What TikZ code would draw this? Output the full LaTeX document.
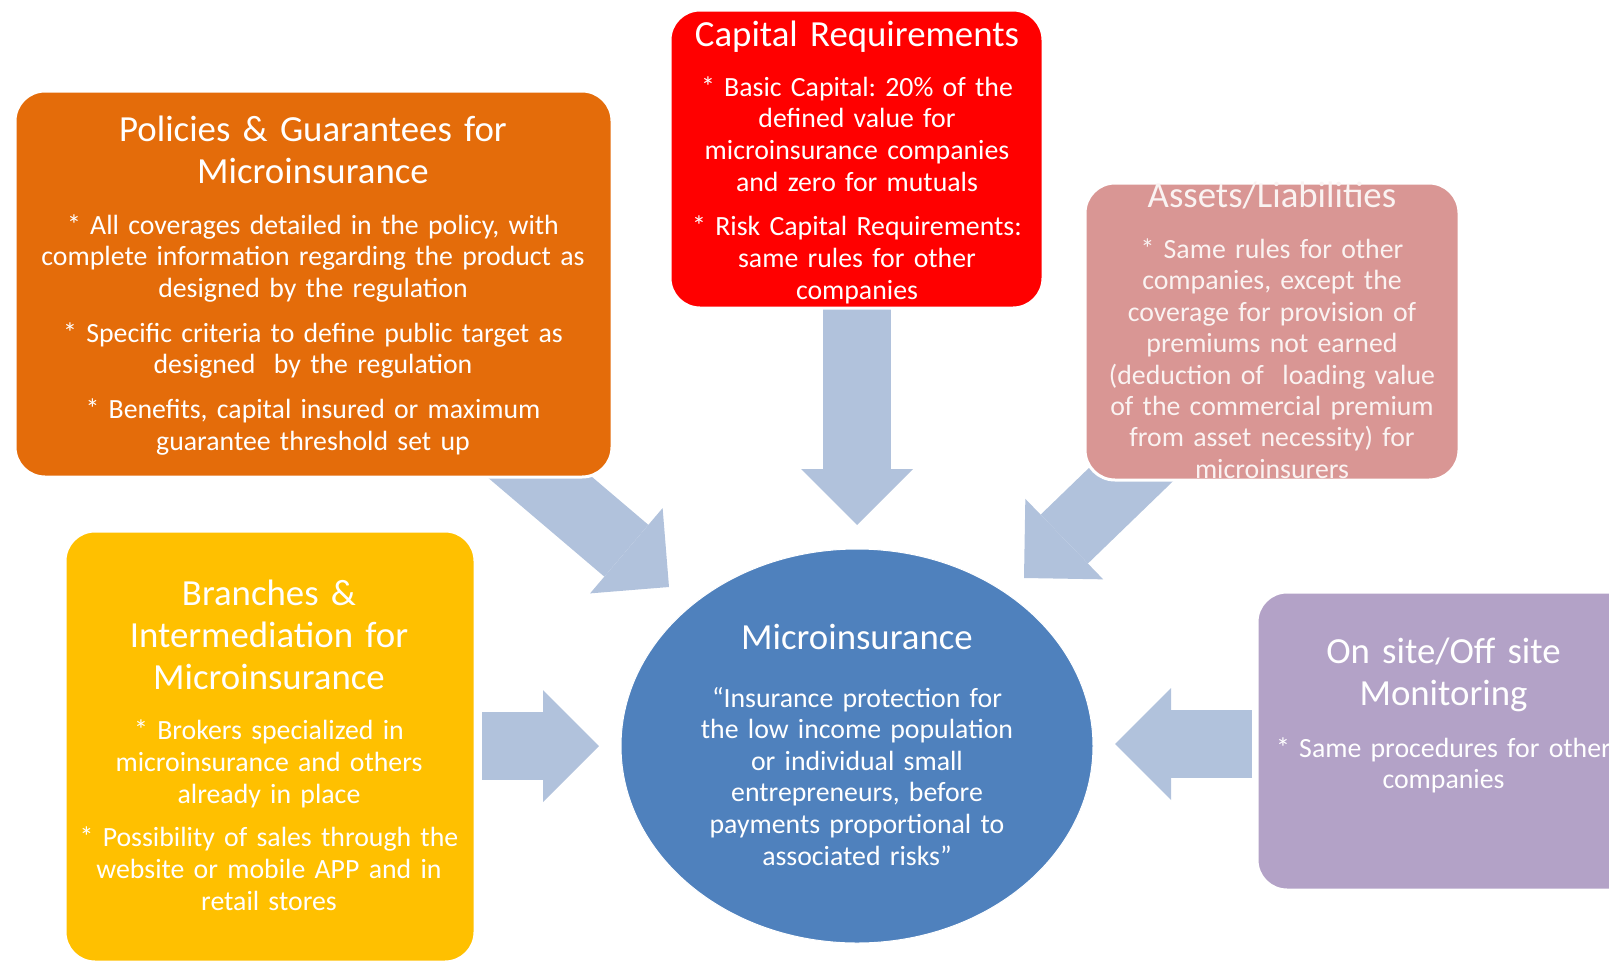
\documentclass[tikz,border=0pt]{standalone}
\usepackage{fontspec}
\setmainfont{Carlito}
\usetikzlibrary{shapes.geometric,arrows.meta}
\frenchspacing
\definecolor{polorange}{HTML}{E46C0A}
\definecolor{capred}{HTML}{FF0000}
\definecolor{asspink}{HTML}{D99694}
\definecolor{bryellow}{HTML}{FFC000}
\definecolor{monpurple}{HTML}{B3A2C7}
\definecolor{ellblue}{HTML}{4F81BD}
\definecolor{arrblue}{HTML}{B1C2DC}
\colorlet{paletext}{white!88!asspink}
\tikzset{
  box/.style={rectangle, rounded corners=30pt, draw=white, line width=3pt, inner sep=0pt},
  ttl/.style={text=white, align=center, inner sep=0pt, anchor=base, text width=640pt,
              font=\fontsize{36.8}{42}\selectfont},
  bdy/.style={text=white, align=center, inner sep=0pt, anchor=base, text width=640pt,
              font=\fontsize{27.8}{31.8}\selectfont},
  blockarrow/.style={draw=arrblue, line width=68pt,
              -{Triangle[length=56pt,width=112pt,line width=0pt]}},
}
\begin{document}
\begin{tikzpicture}[x=1pt,y=-1pt]
\useasboundingbox (0,0) rectangle (1609,964);
\clip (0,0) rectangle (1609,964);

% arrow end points
\coordinate (dA) at (857,300);   \coordinate (dB) at (857,525);
\coordinate (rA) at (482,746);   \coordinate (rB) at (599,746);
\coordinate (lA) at (1252,744);  \coordinate (lB) at (1115,744);
\coordinate (pA) at (470.6,418.3); \coordinate (pB) at (669,587);
\coordinate (aA) at (1189.5,418); \coordinate (aB) at (1024,578);

\draw[blockarrow] (dA) -- (dB);
\draw[blockarrow] (rA) -- (rB);
\draw[blockarrow] (lA) -- (lB);
\draw[blockarrow] (pA) -- (pB);
\draw[blockarrow] (aA) -- (aB);

% boxes
\node[box, fill=polorange, minimum width=597pt, minimum height=386pt] (pol) at (313.5,284) {};
\node[box, fill=capred, minimum width=373pt, minimum height=298pt] (cap) at (856.5,159) {};
\node[box, fill=asspink, minimum width=374pt, minimum height=297pt] (ass) at (1272,331.5) {};
\node[box, fill=bryellow, minimum width=410pt, minimum height=431pt] (br) at (270,746.5) {};
\node[box, fill=monpurple, minimum width=403pt, minimum height=298pt] (mon) at (1458.5,741) {};
\node[ellipse, fill=ellblue, draw=white, line width=1pt, minimum width=472pt, minimum height=394pt, inner sep=0pt] (mic) at (857,746) {};

% texts
\node[ttl] (polT) at (313,141.5) {Policies \& Guarantees for\\Microinsurance};
\node[bdy] (polB) at (313,234) {* All coverages detailed in the policy, with\\complete information regarding the product as\\designed by the regulation\\[12.7pt]* Specific criteria to define public target as\\designed\ \ by the regulation\\[12.7pt]* Benefits, capital insured or maximum\\guarantee threshold set up};

\node[ttl] (capT) at (857,46.5) {Capital Requirements};
\node[bdy] (capB) at (857,96) {* Basic Capital: 20\% of the\\defined value for\\microinsurance companies\\and zero for mutuals\\[12.5pt]* Risk Capital Requirements:\\same rules for other\\companies};

\node[ttl, text=paletext] (assT) at (1272,207.5) {Assets/Liabilities};
\node[bdy, text=paletext, font=\fontsize{27.8}{31.4}\selectfont] (assB) at (1272,258.5) {* Same rules for other\\companies, except the\\coverage for provision of\\premiums not earned\\(deduction of\ \ loading value\\of the commercial premium\\from asset necessity) for\\microinsurers};

\node[ttl] (brT) at (269,605.5) {Branches \&\\Intermediation for\\Microinsurance};
\node[bdy] (brB) at (269,739.5) {* Brokers specialized in\\microinsurance and others\\already in place\\[11.5pt]* Possibility of sales through the\\website or mobile APP and in\\retail stores};

\node[ttl] (micT) at (857,649.5) {Microinsurance};
\node[bdy, font=\fontsize{27.8}{31.6}\selectfont] (micB) at (857,707) {“Insurance protection for\\the low income population\\or individual small\\entrepreneurs, before\\payments proportional to\\associated risks”};

\node[ttl] (monT) at (1443.5,663) {On site/Off site\\Monitoring};
\node[bdy, font=\fontsize{27.8}{31}\selectfont] (monB) at (1443.5,757) {* Same procedures for other\\companies};
\end{tikzpicture}
\end{document}
